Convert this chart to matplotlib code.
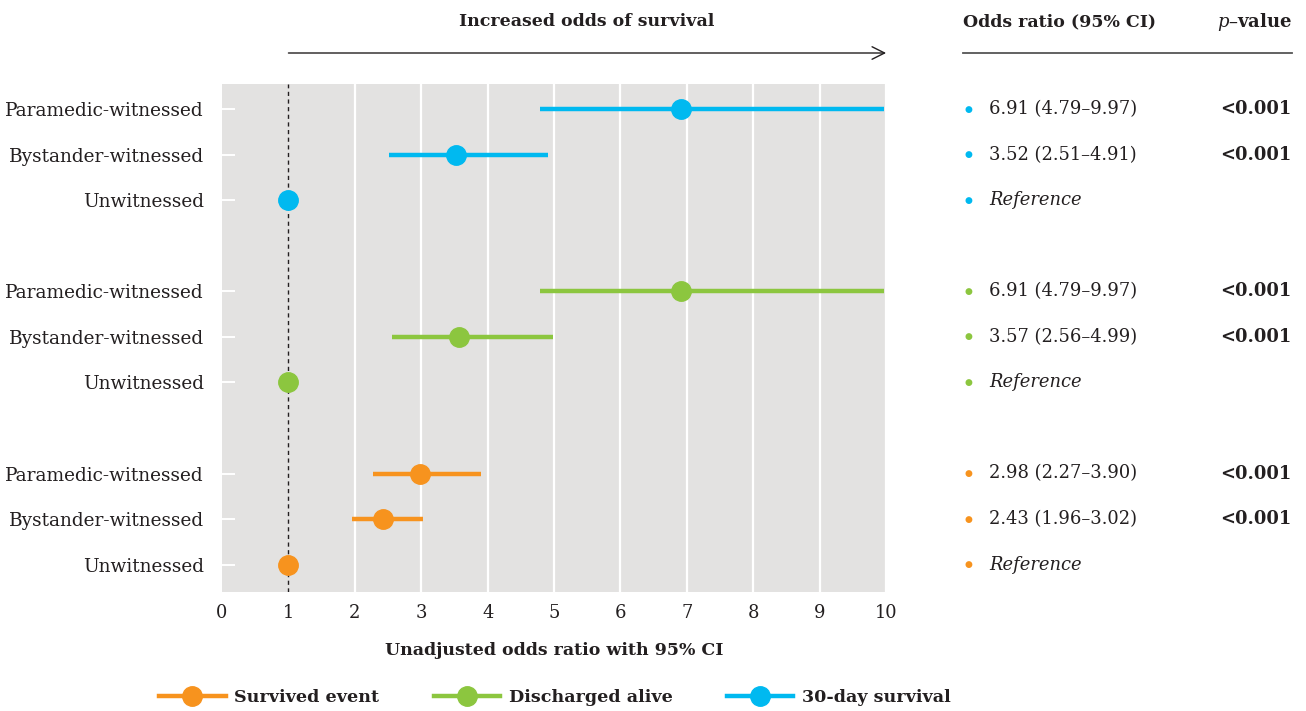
import matplotlib
matplotlib.use("Agg")
import matplotlib.pyplot as plt
import matplotlib.transforms as mtransforms
from matplotlib.lines import Line2D

plt.rcParams['font.family'] = ['DejaVu Serif']
plt.rcParams['mathtext.fontset'] = 'dejavuserif'

row_labels = ["Paramedic-witnessed", "Bystander-witnessed", "Unwitnessed"]
outcomes = ["30-day survival", "Discharged alive", "Survived event"]
colors = ["#00B9F0", "#8CC63F", "#F7931E"]

odds = [[6.91, 3.52, 1.0], [6.91, 3.57, 1.0], [2.98, 2.43, 1.0]]
ci_low = [[4.79, 2.51, None], [4.79, 2.56, None], [2.27, 1.96, None]]
ci_high = [[9.97, 4.91, None], [9.97, 4.99, None], [3.90, 3.02, None]]
p_values = [["<0.001", "<0.001", None], ["<0.001", "<0.001", None], ["<0.001", "<0.001", None]]

text_col = "#231F20"
fs = 13.3
vfs = 12.9
hfs = 12.5

fig = plt.figure(figsize=(13.06, 7.11), dpi=100)
ax = fig.add_axes([0.170, 0.1674, 0.5085, 0.7144])
ax.set_facecolor("#E3E2E1")
for s in ax.spines.values():
    s.set_visible(False)

ax.set_xlim(0, 10)
ax.set_ylim(10.6, -0.55)
ax.set_xticks(range(0, 11))
ax.tick_params(axis="x", length=0, labelsize=vfs, labelcolor=text_col, pad=9)
for gx in range(2, 11):
    ax.axvline(gx, color="white", lw=1.6, zorder=1)
ax.axvline(1, color="#231F20", lw=1.0, ls=(0, (3, 2.5)), zorder=2)

tr = mtransforms.blended_transform_factory(fig.transFigure, ax.transData)
W = 1306.0

yticks, ylabels = [], []
for g in range(3):
    for r in range(3):
        y = g * 4 + r
        yticks.append(y)
        ylabels.append(row_labels[r])
        o = odds[g][r]
        if ci_low[g][r] is not None:
            ax.plot([ci_low[g][r], ci_high[g][r]], [y, y], color=colors[g], lw=3.2,
                    solid_capstyle="butt", zorder=3)
            label = f"{o:.2f} ({ci_low[g][r]:.2f}\u2013{ci_high[g][r]:.2f})"
            fig.text(989 / W, y, label, transform=tr, fontsize=vfs, color=text_col,
                     va="center", ha="left")
        else:
            fig.text(989 / W, y, "Reference", transform=tr, fontsize=vfs, color=text_col,
                     va="center", ha="left", style="italic")
        ax.plot(o, y, "o", color=colors[g], ms=14, zorder=4, clip_on=False)
        fig.text(968 / W, y, "\u25CF", transform=tr, fontsize=6.5, color=colors[g],
                 va="center", ha="center")
        if p_values[g][r]:
            fig.text(1291 / W, y, p_values[g][r], transform=tr, fontsize=vfs, color=text_col,
                     va="center", ha="right", weight="bold")

ax.set_yticks(yticks)
ax.set_yticklabels(ylabels)
ax.tick_params(axis="y", direction="in", length=9, width=1.4, color="white",
               labelsize=fs, labelcolor=text_col, pad=13)

ax.set_xlabel("Unadjusted odds ratio with 95% CI", fontsize=hfs, weight="bold",
              color=text_col, labelpad=14)

# header above the plot
fig.text(587 / W, 1 - 22 / 711, "Increased odds of survival", fontsize=hfs, weight="bold",
         color=text_col, ha="center", va="center")
ax.annotate("", xy=(10, 1 - 53 / 711), xytext=(1, 1 - 53 / 711),
            xycoords=("data", "figure fraction"), textcoords=("data", "figure fraction"),
            arrowprops=dict(arrowstyle="->,head_length=0.9,head_width=0.45",
                            color="#231F20", lw=1.0, shrinkA=0, shrinkB=0))

fig.text(963 / W, 1 - 22 / 711, "Odds ratio (95% CI)", fontsize=hfs, weight="bold",
         color=text_col, ha="left", va="center")
fig.text(1292 / W, 1 - 22 / 711, r"$\mathit{p}$" + "\u2013value", fontsize=hfs + 0.5,
         weight="bold", color=text_col, ha="right", va="center")
fig.add_artist(Line2D([963 / W, 1292 / W], [1 - 53 / 711, 1 - 53 / 711],
                      transform=fig.transFigure, color="#555555", lw=1.3))

# legend along the bottom
handles = [Line2D([], [], color=c, lw=3.2, marker="o", ms=14) for c in colors[::-1]]
leg = fig.legend(handles, outcomes[::-1], loc="center", bbox_to_anchor=(555 / W, 1 - 698 / 711),
                 ncol=3, frameon=False, handlelength=3.8, columnspacing=3.1, handletextpad=0.5,
                 prop={"size": 12.6, "weight": "bold"})
for t in leg.get_texts():
    t.set_color(text_col)

fig.savefig("out.png", dpi=100)
